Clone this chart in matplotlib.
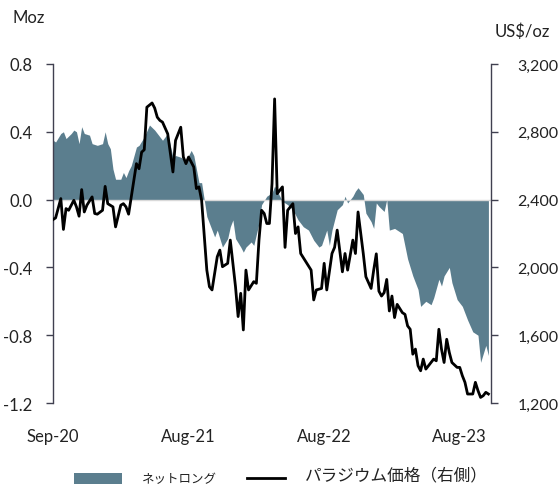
import matplotlib
matplotlib.use("Agg")
import matplotlib.pyplot as plt
from matplotlib.patches import Rectangle
from matplotlib.lines import Line2D

plt.rcParams["font.family"] = ["Lato", "Noto Sans CJK JP", "DejaVu Sans"]

# --------------------------------------------------
# Weekly data (week 0 = Sep-20)
# --------------------------------------------------
net_weeks = [0, 1, 3, 4, 5, 7, 8, 9, 10, 11, 12, 14, 15, 17, 19, 20, 21, 22, 23, 24,
             26, 27, 28, 29, 30, 32, 33, 35, 37, 39, 42, 44, 46, 47, 49, 51, 53, 54, 56, 57,
             58, 59, 61, 62, 63, 65, 67, 68, 69, 70, 72, 73, 74, 76, 77, 79, 80, 82, 84, 85,
             86, 88, 90, 92, 94, 96, 98, 100, 102, 103, 105, 106, 107, 109, 111, 112, 113, 115, 116, 117,
             119, 120, 122, 123, 124, 125, 127, 128, 129, 131, 132, 134, 136, 138, 140, 141, 143, 145, 146, 148,
             149, 150, 152, 153, 155, 157, 159, 161, 163, 164, 166, 167]
net_long = [0.35, 0.34, 0.39, 0.40, 0.36, 0.39, 0.41, 0.40, 0.33, 0.43, 0.39, 0.38, 0.33, 0.32, 0.33, 0.40, 0.33, 0.30, 0.18, 0.12,
            0.12, 0.16, 0.13, 0.17, 0.20, 0.31, 0.32, 0.37, 0.44, 0.41, 0.35, 0.39, 0.25, 0.26, 0.25, 0.23, 0.29, 0.26, 0.10, 0.10,
            0.00, -0.10, -0.18, -0.22, -0.18, -0.28, -0.23, -0.16, -0.12, -0.23, -0.28, -0.31, -0.28, -0.25, -0.27, -0.14, -0.03, 0.02, 0.04, 0.08,
            0.05, -0.01, -0.03, -0.06, -0.12, -0.16, -0.18, -0.24, -0.28, -0.27, -0.18, -0.27, -0.18, -0.06, -0.03, 0.02, -0.02, 0.02, 0.05, 0.07,
            0.03, -0.08, -0.13, -0.17, -0.02, -0.04, -0.07, 0.00, -0.18, -0.17, -0.18, -0.20, -0.35, -0.45, -0.53, -0.63, -0.60, -0.62, -0.58, -0.47,
            -0.51, -0.45, -0.40, -0.49, -0.59, -0.63, -0.71, -0.78, -0.80, -0.96, -0.86, -0.92]

price_weeks = [0, 1, 3, 4, 5, 6, 8, 9, 10, 11, 12, 13, 15, 16, 17, 19, 20, 21, 23, 24,
               26, 27, 28, 29, 31, 32, 33, 34, 35, 36, 38, 39, 40, 41, 42, 44, 46, 47, 49, 50,
               51, 52, 54, 55, 56, 57, 59, 60, 61, 63, 64, 65, 67, 68, 70, 71, 72, 73, 74, 75,
               77, 78, 79, 80, 81, 82, 83, 84, 85, 86, 88, 89, 90, 92, 93, 94, 95, 97, 99, 100,
               101, 103, 104, 105, 107, 108, 109, 111, 112, 113, 115, 116, 117, 119, 120, 122, 123, 124, 125, 126,
               127, 128, 129, 130, 131, 132, 134, 135, 136, 137, 138, 139, 140, 141, 142, 143, 144, 146, 147, 148,
               149, 150, 151, 152, 153, 155, 156, 157, 158, 159, 161, 162, 163, 164, 165, 166, 167]
price = [2282, 2292, 2406, 2224, 2347, 2337, 2396, 2357, 2302, 2459, 2327, 2367, 2416, 2318, 2314, 2337, 2478, 2376, 2357, 2239,
         2367, 2376, 2357, 2314, 2514, 2612, 2582, 2680, 2694, 2945, 2970, 2940, 2886, 2867, 2857, 2788, 2563, 2749, 2827, 2651,
         2612, 2651, 2592, 2465, 2475, 2396, 1984, 1886, 1867, 2063, 2102, 2004, 2024, 2161, 1886, 1710, 1847, 1631, 1984, 1867,
         1916, 1906, 2161, 2337, 2318, 2259, 2259, 2494, 2994, 2435, 2475, 2118, 2337, 2376, 2200, 2239, 2082, 2033, 1984, 1808,
         1867, 1876, 2024, 1867, 2082, 2118, 2220, 1974, 2082, 1984, 2161, 2082, 2327, 2082, 1945, 1876, 1984, 2080, 1860, 1831,
         1851, 1929, 1743, 1831, 1704, 1782, 1733, 1723, 1655, 1635, 1488, 1518, 1420, 1390, 1459, 1400, 1420, 1459, 1449, 1635,
         1518, 1439, 1576, 1498, 1439, 1410, 1410, 1361, 1322, 1253, 1253, 1322, 1273, 1233, 1243, 1263, 1253]

x_tick_weeks = [0, 52, 104, 156]
x_tick_labels = ["Sep-20", "Aug-21", "Aug-22", "Aug-23"]
left_ticks = [-1.2, -0.8, -0.4, 0.0, 0.4, 0.8]
left_labels = ["-1.2", "-0.8", "-0.4", "0.0", "0.4", "0.8"]
right_ticks = [1200, 1600, 2000, 2400, 2800, 3200]
right_labels = ["1,200", "1,600", "2,000", "2,400", "2,800", "3,200"]

AREA = "#5b7e8e"
SPINE = "#404050"
TEXT = "#222222"

# --------------------------------------------------
# Plot
# --------------------------------------------------
fig = plt.figure(figsize=(5.59, 4.85), dpi=100)
ax = fig.add_axes([0.0948, 0.167, 0.7836, 0.699])
ax2 = ax.twinx()

ax.fill_between(net_weeks, net_long, 0, color=AREA, linewidth=0, zorder=1)
ax.axhline(0, color="#d9d9d9", linewidth=1, zorder=2)

ax.set_zorder(ax2.get_zorder() - 1)
ax2.patch.set_visible(False)
ax2.plot(price_weeks, price, color="black", linewidth=2, zorder=3)

ax.set_xlim(0, 168)
ax.set_ylim(-1.2, 0.8)
ax2.set_ylim(1200, 3200)

ax.set_xticks(x_tick_weeks)
ax.set_xticklabels(x_tick_labels, fontsize=12, color=TEXT)
ax.tick_params(axis="x", length=0, pad=18)

ax.set_yticks(left_ticks)
ax.set_yticklabels(left_labels, fontsize=12, color=TEXT)
ax.tick_params(axis="y", direction="out", length=5, width=1, color=SPINE, pad=10)

ax2.set_yticks(right_ticks)
ax2.set_yticklabels(right_labels, fontsize=11.5, color=TEXT)
ax2.tick_params(axis="y", direction="out", length=5, width=1, color=SPINE, pad=14)

for a in (ax, ax2):
    for side in ("top", "bottom"):
        a.spines[side].set_visible(False)
    for side in ("left", "right"):
        a.spines[side].set_color(SPINE)
        a.spines[side].set_linewidth(1)
ax.spines["right"].set_visible(False)
ax2.spines["left"].set_visible(False)

fig.text(29 / 559, 1 - 18 / 485, "Moz", fontsize=12, color=TEXT, ha="center", va="center")
fig.text(522 / 559, 1 - 32 / 485, "US$/oz", fontsize=12, color=TEXT, ha="center", va="center")

# --------------------------------------------------
# Legend (drawn by hand, two text sizes)
# --------------------------------------------------
fig.add_artist(Rectangle((74 / 559, 1 - 486 / 485), 48 / 559, 12 / 485,
                         transform=fig.transFigure, color=AREA, linewidth=0))
fig.text(142 / 559, 1 - 479 / 485, "ネットロング", fontsize=9, color=TEXT, va="center")
fig.add_artist(Line2D([247 / 559, 285 / 559], [1 - 479 / 485, 1 - 479 / 485],
                      transform=fig.transFigure, color="black", linewidth=2))
fig.text(305 / 559, 1 - 475 / 485, "パラジウム価格（右側）", fontsize=12, color=TEXT, va="center")

plt.savefig("out.png", dpi=100)
print("saved out.png")
